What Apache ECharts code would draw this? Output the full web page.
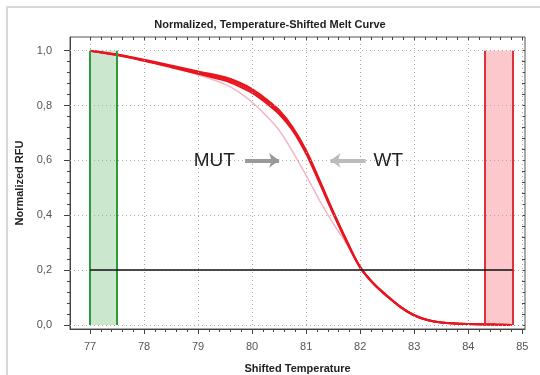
<!DOCTYPE html>
<html>
<head>
<meta charset="utf-8">
<script src="https://cdn.jsdelivr.net/npm/echarts@6/dist/echarts.min.js"></script>
<style>
  html, body { margin: 0; padding: 0; background: #fff; }
  #meltCurve { width: 540px; height: 375px; }
</style>
</head>
<body>
<div id="meltCurve"></div>
<script>
// shifted temperature (x)
var temps = [77, 77.5, 78, 78.5, 79, 79.5, 79.75, 80, 80.25, 80.5, 80.75, 81, 81.25, 81.5, 81.75, 82, 82.25, 82.5, 82.75, 83, 83.25, 83.5, 84, 84.5, 84.8];
// WT replicates (thick red bundle)
var wtA = [1.0, 0.986, 0.967, 0.946, 0.924, 0.903, 0.885, 0.86, 0.825, 0.783, 0.721, 0.636, 0.527, 0.414, 0.308, 0.211, 0.151, 0.106, 0.066, 0.036, 0.018, 0.009, 0.003, 0.001, 0.0];
var wtB = [1.0, 0.984, 0.963, 0.94, 0.916, 0.891, 0.871, 0.846, 0.811, 0.769, 0.709, 0.624, 0.517, 0.406, 0.302, 0.209, 0.149, 0.104, 0.064, 0.034, 0.017, 0.009, 0.003, 0.001, 0.0];
var wtC = [1.0, 0.985, 0.965, 0.943, 0.92, 0.897, 0.878, 0.853, 0.818, 0.776, 0.715, 0.63, 0.522, 0.41, 0.305, 0.21, 0.15, 0.105, 0.065, 0.035, 0.018, 0.009, 0.003, 0.001, 0.0];
// MUT (light pink)
var mut = [1.0, 0.985, 0.964, 0.941, 0.912, 0.877, 0.85, 0.812, 0.765, 0.71, 0.632, 0.545, 0.453, 0.37, 0.295, 0.207, 0.149, 0.104, 0.064, 0.034, 0.017, 0.009, 0.003, 0.001, 0.0];

// axis ticks
var xTicks = [77, 78, 79, 80, 81, 82, 83, 84, 85];
var xMinor = [];
for (var i = 0; i <= 40; i++) xMinor.push(+(77 + i * 0.2).toFixed(1));
var yTicks = [0, 0.2, 0.4, 0.6, 0.8, 1.0];
var yMinor = [];
for (var j = 0; j <= 25; j++) yMinor.push(+(j * 0.04).toFixed(2));

// normalization regions and threshold
var greenBand = [77, 77.5];
var redBand = [84.3, 84.82];
var bandTop = 1.0;
var threshold = 0.2;

// annotation positions (data coords)
var mutLabel = [79.3, 0.6];
var mutArrow = [[79.87, 0.6], [80.5, 0.6]];
var wtLabel = [82.52, 0.6];
var wtArrow = [[82.1, 0.6], [81.45, 0.6]];

var myChart = echarts.init(document.getElementById('meltCurve'));

function pairs(ys) {
    return temps.map(function (t, k) { return [t, ys[k]]; });
}
function fmt(v) {
    return v.toFixed(1).replace('.', ',');
}

var X_MIN = 76.63, X_MAX = 85.05, Y_MIN = -0.015, Y_MAX = 1.05;
var font = 'Liberation Sans';

function xAx(pos, ticks, len, inside, main) {
    return {
        type: 'value', min: X_MIN, max: X_MAX, position: pos,
        axisLine: { show: main, onZero: false, lineStyle: { color: '#444' } },
        axisTick: { show: true, customValues: ticks, length: len, inside: inside, lineStyle: { color: '#444' } },
        axisLabel: main ? { show: true, customValues: xTicks, margin: 12, color: '#555', fontSize: 11, fontFamily: font, formatter: function (v) { return v; } } : { show: false },
        splitLine: { show: false },
        name: main ? 'Shifted Temperature' : '',
        nameLocation: 'middle', nameGap: 34,
        nameTextStyle: { fontWeight: 'bold', fontSize: 11, color: '#222', fontFamily: font }
    };
}
function yAx(pos, ticks, len, inside, main) {
    return {
        type: 'value', min: Y_MIN, max: Y_MAX, position: pos,
        axisLine: { show: main, onZero: false, lineStyle: { color: '#444' } },
        axisTick: { show: true, customValues: ticks, length: len, inside: inside, lineStyle: { color: '#444' } },
        axisLabel: main ? { show: true, customValues: yTicks, margin: 18, color: '#555', fontSize: 11, fontFamily: font, formatter: fmt } : { show: false },
        splitLine: { show: false },
        name: main ? 'Normalized RFU' : '',
        nameLocation: 'middle', nameGap: 42,
        nameTextStyle: { fontWeight: 'bold', fontSize: 11, color: '#222', fontFamily: font }
    };
}

// dotted grid lines
var gridLines = [];
xTicks.forEach(function (x) { gridLines.push([{ coord: [x, Y_MIN] }, { coord: [x, Y_MAX] }]); });
yTicks.forEach(function (y) { gridLines.push([{ coord: [X_MIN, y] }, { coord: [X_MAX, y] }]); });

var bandLines = [greenBand[0], greenBand[1]].map(function (x) {
    return [{ coord: [x, 0] }, { coord: [x, bandTop], lineStyle: { color: '#2e9a3a' } }];
}).concat([redBand[0], redBand[1]].map(function (x) {
    return [{ coord: [x, 0] }, { coord: [x, bandTop], lineStyle: { color: '#e0303a' } }];
}));

function wtSeries(name, ys) {
    return {
        name: name, type: 'line', data: pairs(ys), smooth: 0.35, showSymbol: false,
        lineStyle: { color: '#e8141e', width: 2 }, z: 4
    };
}

option = {
    backgroundColor: '#fff',
    animation: false,
    title: {
        text: 'Normalized, Temperature-Shifted Melt Curve',
        left: 'center', top: 14,
        textStyle: { fontSize: 11, fontWeight: 'bold', color: '#222', fontFamily: font }
    },
    graphic: [{
        type: 'rect', silent: true,
        shape: { x: 7, y: 7, width: 560, height: 400 },
        style: { fill: 'none', stroke: '#d8d8d8', lineWidth: 2 }
    }],
    grid: {
        left: 70, top: 37, right: 15, bottom: 46,
        outerBoundsMode: 'none', containLabel: false,
        show: true, borderColor: '#555', borderWidth: 1
    },
    xAxis: [
        xAx('bottom', xTicks, 5, false, true),
        xAx('bottom', xMinor, 3, false, false),
        xAx('top', xMinor, 3, true, false)
    ],
    yAxis: [
        yAx('left', yTicks, 6, false, true),
        yAx('left', yMinor, 3, false, false),
        yAx('right', yMinor, 3, true, false)
    ],
    series: [
        {
            // grid, bands
            type: 'line', data: [], silent: true,
            markLine: {
                silent: true, symbol: ['none', 'none'], label: { show: false },
                lineStyle: { type: [1, 3], color: '#aaa', width: 1 },
                data: gridLines
            },
            markArea: {
                silent: true,
                data: [
                    [{ coord: [greenBand[0], 0], itemStyle: { color: 'rgba(70,170,80,0.28)' } }, { coord: [greenBand[1], bandTop] }],
                    [{ coord: [redBand[0], 0], itemStyle: { color: 'rgba(250,110,120,0.38)' } }, { coord: [redBand[1], bandTop] }]
                ]
            }
        },
        {
            // band edges and threshold
            type: 'line', data: [], silent: true,
            markLine: {
                silent: true, symbol: ['none', 'none'], label: { show: false },
                lineStyle: { type: 'solid', width: 2 },
                data: bandLines.concat([
                    [{ coord: [greenBand[0], threshold] }, { coord: [redBand[1], threshold], lineStyle: { color: '#111', width: 1.5 } }]
                ])
            }
        },
        {
            name: 'MUT', type: 'line', data: pairs(mut), smooth: 0.35, showSymbol: false,
            lineStyle: { color: '#f5b5c2', width: 1.5 }, z: 3
        },
        wtSeries('WT1', wtA),
        wtSeries('WT2', wtB),
        {
            name: 'WT3', type: 'line', data: pairs(wtC), smooth: 0.35, showSymbol: false,
            lineStyle: { color: '#e8141e', width: 2 }, z: 4,
            markLine: {
                silent: true, symbol: ['none', 'arrow'], symbolSize: [11, 10], label: { show: false },
                data: [
                    [{ coord: mutArrow[0], lineStyle: { color: '#999', width: 4, type: 'solid' } }, { coord: mutArrow[1] }],
                    [{ coord: wtArrow[0], lineStyle: { color: '#bbb', width: 4, type: 'solid' } }, { coord: wtArrow[1] }]
                ]
            },
            markPoint: {
                silent: true, symbol: 'circle', symbolSize: 0,
                label: { show: true, position: 'inside', fontSize: 19, color: '#222', fontFamily: font, formatter: '{b}' },
                data: [
                    { name: 'MUT', coord: mutLabel },
                    { name: 'WT', coord: wtLabel }
                ]
            }
        }
    ]
};
myChart.setOption(option);
</script>
</body>
</html>
